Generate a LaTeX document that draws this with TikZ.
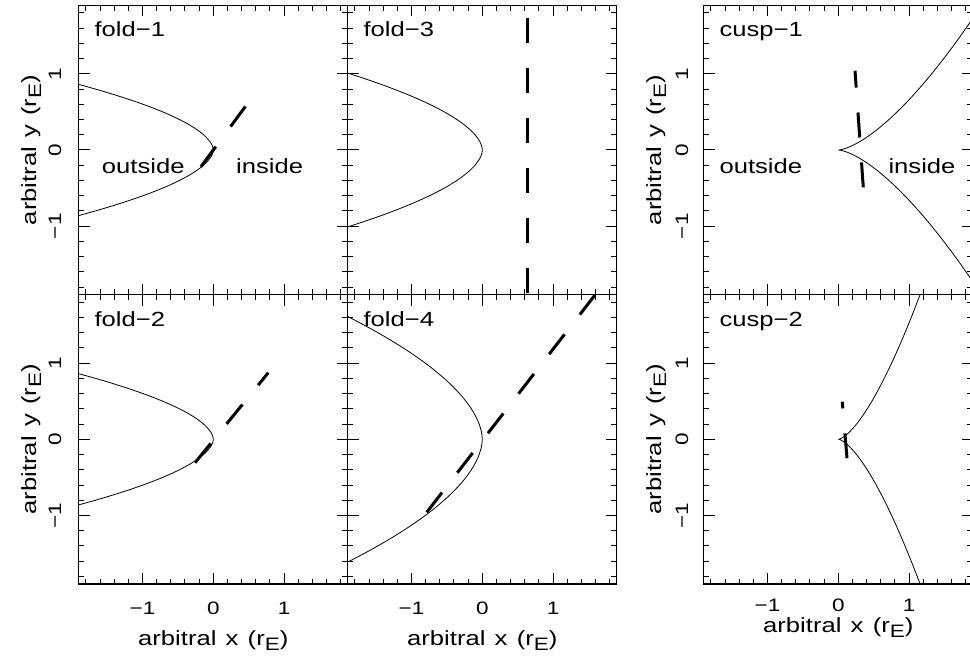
\documentclass[tikz,border=0pt]{standalone}
\usepackage{fontspec}
\setmainfont{Liberation Sans}[FakeStretch=1.25]
\newcommand{\unitrE}{(r\raisebox{-5pt}{\fontsize{18}{18}\selectfont E})}

\begin{document}
\begin{tikzpicture}[x=1pt, y=1pt,
    frame/.style={line width=1.3pt},
    tickmark/.style={line width=1pt},
    caustic/.style={line width=0.8pt},
    track/.style={line width=3pt, dash pattern=on 25pt off 25pt},
    tag/.style={inner sep=0pt, anchor=base west, font=\fontsize{20.5}{24}\selectfont},
    ticklab/.style={inner sep=0pt, font=\fontsize{18}{20}\selectfont},
    axlab/.style={inner sep=0pt, anchor=base, font=\fontsize{20.5}{24}\selectfont}]
\useasboundingbox (0,0) rectangle (970,658);

% Frames and ticks
\foreach \cx/\cy in {213.3/508, 482.3/508, 838.3/508, 213.3/218.7, 482.3/218.7, 838.3/218.7} {
  \begin{scope}[shift={(\cx,\cy)}, x=70.8pt, y=76.2pt]
    \draw[frame] (-1.9,-1.9) rectangle (1.9,1.9);
    \foreach \t in {-1.8,-1.6,...,1.9} {
      \draw[tickmark] (\t,-1.9) -- ++(0,5.5pt) (\t,1.9) -- ++(0,-5.5pt)
                      (-1.9,\t) -- ++(5.5pt,0) (1.9,\t) -- ++(-5.5pt,0);
    }
    \foreach \t in {-1,0,1} {
      \draw[tickmark] (\t,-1.9) -- ++(0,11pt) (\t,1.9) -- ++(0,-11pt)
                      (-1.9,\t) -- ++(11pt,0) (1.9,\t) -- ++(-11pt,0);
    }
  \end{scope}
}

% fold-1
\begin{scope}[shift={(213.3,508)}, x=70.8pt, y=76.2pt]
  \clip (-1.9,-1.9) rectangle (1.9,1.9);
  \draw[caustic] plot[domain=-0.9:0.9, samples=80] ({-2.49*pow(abs(\x),1.8)}, \x);
  \draw[track] (-0.175,-0.22) -- (0.46,0.58);
\end{scope}
% fold-3
\begin{scope}[shift={(482.3,508)}, x=70.8pt, y=76.2pt]
  \clip (-1.9,-1.9) rectangle (1.9,1.9);
  \draw[caustic] plot[domain=-1.05:1.05, samples=80] ({-1.87*pow(abs(\x),1.8)}, \x);
  \draw[track] (0.64,1.728) -- (0.64,-1.9);
\end{scope}
% cusp-1
\begin{scope}[shift={(838.3,508)}, x=70.8pt, y=76.2pt]
  \clip (-1.9,-1.9) rectangle (1.9,1.9);
  \draw[caustic] plot[domain=-1.4:1.4, samples=81] ({\x*\x}, {0.66*\x*\x*\x});
  \draw[track] (0.353,-0.49) -- (0.236,1.04);
\end{scope}
% fold-2
\begin{scope}[shift={(213.3,218.7)}, x=70.8pt, y=76.2pt]
  \clip (-1.9,-1.9) rectangle (1.9,1.9);
  \draw[caustic] plot[domain=-0.9:0.9, samples=80] ({-2.49*pow(abs(\x),1.8)}, \x);
  \draw[track] (-0.258,-0.307) -- (0.777,0.874);
\end{scope}
% fold-4
\begin{scope}[shift={(482.3,218.7)}, x=70.8pt, y=76.2pt]
  \clip (-1.9,-1.9) rectangle (1.9,1.9);
  \draw[caustic] plot[domain=-1.7:1.7, samples=80] ({-0.806*pow(abs(\x),1.8)}, \x);
  \draw[track] (-0.785,-0.958) -- (1.597,1.9);
\end{scope}
% cusp-2
\begin{scope}[shift={(838.3,218.7)}, x=70.8pt, y=76.2pt]
  \clip (-1.9,-1.9) rectangle (1.9,1.9);
  \draw[caustic] plot[domain=-1.1:1.1, samples=81] ({\x*\x}, {1.53*\x*\x*\x});
  \draw[track] (0.123,-0.249) -- (0.056,0.493);
\end{scope}

% Panel labels
\node[tag] (fold1) at (94.3,621.3) {fold−1};
\node[tag] (fold3) at (363.3,621.3) {fold−3};
\node[tag] (cusp1) at (719.3,621.3) {cusp−1};
\node[tag] (fold2) at (94.3,331.3) {fold−2};
\node[tag] (fold4) at (363.3,331.3) {fold−4};
\node[tag] (cusp2) at (719.3,331.3) {cusp−2};
\node[tag] (out1) at (101.7,484.7) {outside};
\node[tag] (in1) at (236,484.7) {inside};
\node[tag] (out2) at (719.3,484.7) {outside};
\node[tag] (in2) at (888.3,484.7) {inside};

% Tick labels
\foreach \cx/\k/\ty in {213.3/a/50, 482.3/b/50, 838.3/c/53} {
  \foreach \v/\s/\j in {-1/−1/m, 0/0/z, 1/1/p} {
    \node[ticklab] (xt\k\j) at (\cx+70.8*\v,\ty) {\s};
  }
}
\foreach \lx/\cy/\k in {55/508/a, 55/218.7/b, 682/508/c, 682/218.7/d} {
  \foreach \v/\s/\j in {-1/−1/m, 0/0/z, 1/1/p} {
    \node[ticklab, rotate=90] (yt\k\j) at (\lx,\cy+76.2*\v) {\s};
  }
}

% Axis titles
\node[axlab] (xlab1) at (213.3,12) {arbitral\hspace{0.45em}x\hspace{0.45em}\unitrE};
\node[axlab] (xlab2) at (482.3,12) {arbitral\hspace{0.45em}x\hspace{0.45em}\unitrE};
\node[axlab] (xlab3) at (838.3,25.5) {arbitral\hspace{0.45em}x\hspace{0.45em}\unitrE};
\node[axlab, rotate=90] (ylab1) at (36,508) {arbitral\hspace{0.45em}y\hspace{0.45em}\unitrE};
\node[axlab, rotate=90] (ylab2) at (36,218.7) {arbitral\hspace{0.45em}y\hspace{0.45em}\unitrE};
\node[axlab, rotate=90] (ylab3) at (661,508) {arbitral\hspace{0.45em}y\hspace{0.45em}\unitrE};
\node[axlab, rotate=90] (ylab4) at (661,218.7) {arbitral\hspace{0.45em}y\hspace{0.45em}\unitrE};
\end{tikzpicture}
\end{document}
